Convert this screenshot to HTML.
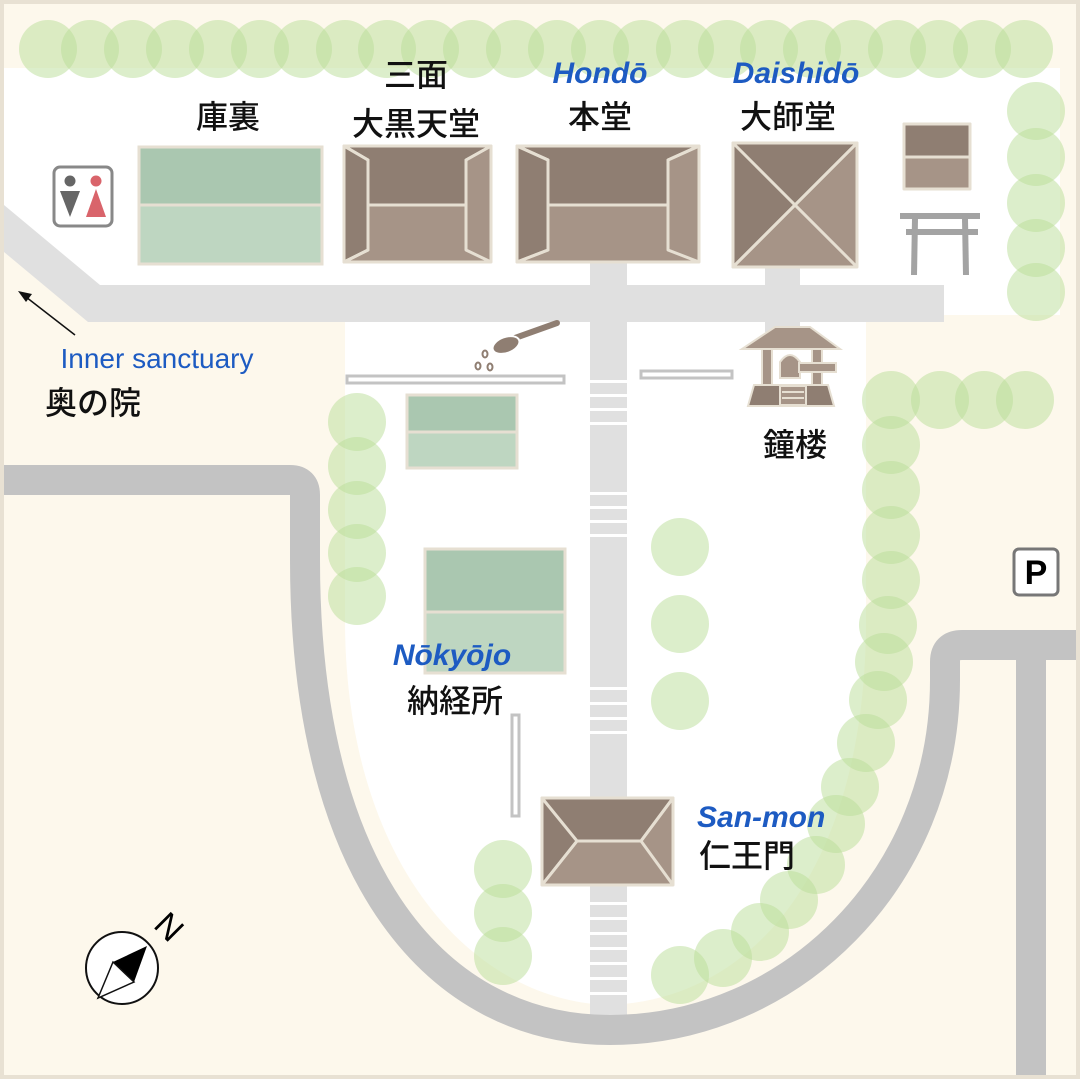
<!DOCTYPE html>
<html><head><meta charset="utf-8"><style>
html,body{margin:0;padding:0;background:#fdf8ec}
svg{display:block}
.jp{font-family:"Liberation Sans","Noto Sans CJK JP",sans-serif;font-weight:500;fill:#111}
.en{font-family:"Liberation Sans","DejaVu Sans",sans-serif;font-style:italic;font-weight:bold;fill:#1d5bc2}
</style></head><body>
<svg width="1080" height="1079" viewBox="0 0 1080 1079" xmlns="http://www.w3.org/2000/svg">
<rect x="0" y="0" width="1080" height="1079" fill="#fdf8ec"/>
<rect x="4" y="68" width="1056" height="247" fill="#fff"/>
<polygon points="4,250 90,322 4,322" fill="#fdf8ec"/>
<path d="M345 322 H866 V620 C866 860 760 1000 608 1005 C470 1000 345 860 345 620 Z" fill="#fff"/>
<polygon points="4,205 100,285 944,285 944,322 88,322 4,252" fill="#e0e0e0"/>
<rect x="590" y="262" width="37" height="775" fill="#e0e0e0"/>
<rect x="765" y="265" width="35" height="22" fill="#e0e0e0"/>
<rect x="765" y="320" width="35" height="12" fill="#e0e0e0"/>
<g fill="#fff">
<rect x="590" y="380" width="37" height="3"/><rect x="590" y="394" width="37" height="3"/><rect x="590" y="408" width="37" height="3"/><rect x="590" y="422" width="37" height="3"/>
<rect x="590" y="492" width="37" height="3"/><rect x="590" y="506" width="37" height="3"/><rect x="590" y="520" width="37" height="3"/><rect x="590" y="534" width="37" height="3"/>
<rect x="590" y="687" width="37" height="3"/><rect x="590" y="702" width="37" height="3"/><rect x="590" y="717" width="37" height="3"/><rect x="590" y="731" width="37" height="3"/>
<rect x="590" y="902" width="37" height="3"/><rect x="590" y="917" width="37" height="3"/><rect x="590" y="932" width="37" height="3"/><rect x="590" y="947" width="37" height="3"/><rect x="590" y="962" width="37" height="3"/><rect x="590" y="977" width="37" height="3"/><rect x="590" y="992" width="37" height="3"/>
</g>
<g fill="none" stroke="#c3c3c3" stroke-width="30">
<path d="M0 480 H290 Q305 480 305 495 V560 C305 880 440 1030 610 1030 C790 1030 945 880 945 680 V662 Q945 645 962 645 H1080"/>
<path d="M1031 645 V1079"/>
</g>
<g fill="#b9dd98" fill-opacity="0.5">
<circle cx="48" cy="49" r="29"/><circle cx="90" cy="49" r="29"/><circle cx="133" cy="49" r="29"/><circle cx="175" cy="49" r="29"/><circle cx="218" cy="49" r="29"/><circle cx="260" cy="49" r="29"/><circle cx="303" cy="49" r="29"/><circle cx="345" cy="49" r="29"/><circle cx="387" cy="49" r="29"/><circle cx="430" cy="49" r="29"/><circle cx="472" cy="49" r="29"/><circle cx="515" cy="49" r="29"/><circle cx="557" cy="49" r="29"/><circle cx="600" cy="49" r="29"/><circle cx="642" cy="49" r="29"/><circle cx="685" cy="49" r="29"/><circle cx="727" cy="49" r="29"/><circle cx="769" cy="49" r="29"/><circle cx="812" cy="49" r="29"/><circle cx="854" cy="49" r="29"/><circle cx="897" cy="49" r="29"/><circle cx="939" cy="49" r="29"/><circle cx="982" cy="49" r="29"/><circle cx="1024" cy="49" r="29"/>
<circle cx="1036" cy="111" r="29"/><circle cx="1036" cy="157" r="29"/><circle cx="1036" cy="203" r="29"/><circle cx="1036" cy="248" r="29"/><circle cx="1036" cy="292" r="29"/>
<circle cx="891" cy="400" r="29"/><circle cx="940" cy="400" r="29"/><circle cx="984" cy="400" r="29"/><circle cx="1025" cy="400" r="29"/>
<circle cx="891" cy="445" r="29"/><circle cx="891" cy="490" r="29"/><circle cx="891" cy="535" r="29"/><circle cx="891" cy="580" r="29"/><circle cx="888" cy="625" r="29"/><circle cx="884" cy="662" r="29"/><circle cx="878" cy="700" r="29"/><circle cx="866" cy="743" r="29"/><circle cx="850" cy="787" r="29"/><circle cx="836" cy="824" r="29"/><circle cx="816" cy="865" r="29"/><circle cx="789" cy="900" r="29"/><circle cx="760" cy="932" r="29"/><circle cx="723" cy="958" r="29"/><circle cx="680" cy="975" r="29"/>
<circle cx="357" cy="422" r="29"/><circle cx="357" cy="466" r="29"/><circle cx="357" cy="510" r="29"/><circle cx="357" cy="553" r="29"/><circle cx="357" cy="596" r="29"/>
<circle cx="680" cy="547" r="29"/><circle cx="680" cy="624" r="29"/><circle cx="680" cy="701" r="29"/>
<circle cx="503" cy="869" r="29"/><circle cx="503" cy="913" r="29"/><circle cx="503" cy="956" r="29"/>
</g>
<g fill="#fff" stroke="#c3c3c3" stroke-width="3">
<rect x="347" y="376" width="217" height="7"/><rect x="641" y="371" width="91" height="7"/><rect x="512" y="715" width="7" height="101"/>
</g>
<g stroke="#e6dfd2" stroke-width="3">
<rect x="139" y="147" width="183" height="58" fill="#aac7b0"/><rect x="139" y="205" width="183" height="59" fill="#bed6c1"/>
<rect x="407" y="395" width="110" height="37" fill="#aac7b0"/><rect x="407" y="432" width="110" height="36" fill="#bed6c1"/>
<rect x="425" y="549" width="140" height="63" fill="#aac7b0"/><rect x="425" y="612" width="140" height="61" fill="#bed6c1"/>
</g>
<g stroke="#e6dfd2" stroke-width="3" stroke-linejoin="round">
<rect x="344" y="146" width="147" height="116" fill="#a69487"/>
<polygon points="344,146 491,146 466,160 466,205 368,205 368,160" fill="#8f7e72"/>
<polygon points="344,146 368,160 368,250 344,262" fill="#8f7e72"/>
<polyline points="344,146 368,160 368,250 344,262" fill="none"/>
<polyline points="491,146 466,160 466,250 491,262" fill="none"/>
<line x1="368" y1="205" x2="466" y2="205"/>
<rect x="517" y="146" width="182" height="116" fill="#a69487"/>
<polygon points="517,146 699,146 668,160 668,205 548,205 548,160" fill="#8f7e72"/>
<polygon points="517,146 548,160 548,250 517,262" fill="#8f7e72"/>
<polyline points="517,146 548,160 548,250 517,262" fill="none"/>
<polyline points="699,146 668,160 668,250 699,262" fill="none"/>
<line x1="548" y1="205" x2="668" y2="205"/>
<rect x="733" y="143" width="124" height="124" fill="#a69487"/>
<polygon points="733,143 857,143 795,205 733,267" fill="#8f7e72"/>
<line x1="733" y1="143" x2="857" y2="267"/><line x1="857" y1="143" x2="733" y2="267"/>
<rect x="904" y="124" width="66" height="65" fill="#a69487"/>
<rect x="904" y="124" width="66" height="33" fill="#8f7e72"/>
<rect x="542" y="798" width="131" height="87" fill="#a69487"/>
<polygon points="542,798 673,798 641,841 577,841 542,885" fill="#8f7e72"/>
<polyline points="542,798 577,841 641,841 673,798" fill="none"/>
<line x1="577" y1="841" x2="542" y2="885"/>
<line x1="641" y1="841" x2="673" y2="885"/>
</g>
<g fill="#a3a3a3">
<rect x="900" y="213" width="80" height="6"/><rect x="906" y="229" width="72" height="6"/>
<polygon points="912,219 918,219 917,275 911,275"/><polygon points="962,219 968,219 969,275 963,275"/>
</g>
<g stroke="#e6dfd2" stroke-width="2">
<polygon points="775,327 810,327 840,349 742,349" fill="#a69487"/>
<rect x="762" y="349" width="10" height="37" fill="#a69487"/>
<rect x="812" y="349" width="10" height="37" fill="#a69487"/>
<path d="M780 378 V362 Q790 348 800 362 V378 Z" fill="#a69487"/>
<rect x="799" y="363" width="37" height="9" fill="#a69487"/>
<polygon points="754,385 828,385 834,406 748,406" fill="#8f7e72"/>
<rect x="780" y="386" width="26" height="19" fill="#a69487"/>
<line x1="782" y1="392" x2="804" y2="392"/><line x1="782" y1="398" x2="804" y2="398"/>
</g>
<line x1="515" y1="338" x2="557" y2="323" stroke="#8f7e72" stroke-width="6" stroke-linecap="round"/>
<ellipse cx="506" cy="345" rx="14" ry="8" transform="rotate(-20 506 345)" fill="#8f7e72" stroke="#fff" stroke-width="2"/>
<g fill="none" stroke="#8f7e72" stroke-width="2"><ellipse cx="485" cy="354" rx="2.5" ry="3.5"/><ellipse cx="478" cy="366" rx="2.5" ry="3.5"/><ellipse cx="490" cy="367" rx="2.5" ry="3.5"/></g>
<rect x="54" y="167" width="58" height="59" rx="6" fill="#fff" stroke="#888" stroke-width="3"/>
<circle cx="70" cy="181" r="5.5" fill="#666"/><polygon points="60,191 80,191 70,217" fill="#666"/>
<circle cx="96" cy="181" r="5.5" fill="#d9646b"/><polygon points="96,189 86,217 106,217" fill="#d9646b"/>
<rect x="1014" y="549" width="44" height="46" rx="5" fill="#fff" stroke="#777" stroke-width="3"/>
<text x="1036" y="584" text-anchor="middle" font-family="Liberation Sans, sans-serif" font-weight="bold" font-size="34" fill="#000">P</text>
<line x1="75" y1="335" x2="26" y2="297" stroke="#111" stroke-width="1.5"/>
<polygon points="18,291 32,294 26,302" fill="#111"/>
<circle cx="122" cy="968" r="36" fill="#fff" stroke="#111" stroke-width="2"/>
<polygon points="147,946 113,962 134,982" fill="#000"/>
<polygon points="98,998 113,962 134,982" fill="#fff" stroke="#111" stroke-width="1.5"/>
<text x="168" y="938" text-anchor="middle" transform="rotate(45 168 928)" font-family="Liberation Sans, sans-serif" font-size="34" fill="#000">N</text>
<text x="157" y="368" font-family="Liberation Sans, sans-serif" font-size="28" fill="#1d5bc2" text-anchor="middle">Inner sanctuary</text>
<text x="45" y="414" class="jp" font-size="32">奥の院</text>
<text x="228" y="128" class="jp" font-size="32" text-anchor="middle">庫裏</text>
<text x="416" y="86" class="jp" font-size="32" text-anchor="middle">三面</text>
<text x="416" y="135" class="jp" font-size="32" text-anchor="middle">大黒天堂</text>
<text x="600" y="83" class="en" font-size="30" text-anchor="middle">Hondō</text>
<text x="600" y="128" class="jp" font-size="32" text-anchor="middle">本堂</text>
<text x="796" y="83" class="en" font-size="30" text-anchor="middle">Daishidō</text>
<text x="788" y="128" class="jp" font-size="32" text-anchor="middle">大師堂</text>
<text x="795" y="456" class="jp" font-size="32" text-anchor="middle">鐘楼</text>
<text x="452" y="665" class="en" font-size="30" text-anchor="middle">Nōkyōjo</text>
<text x="455" y="712" class="jp" font-size="32" text-anchor="middle">納経所</text>
<text x="697" y="827" class="en" font-size="30">San-mon</text>
<text x="699" y="867" class="jp" font-size="32">仁王門</text>
<rect x="2" y="2" width="1076" height="1075" fill="none" stroke="#e8e1d3" stroke-width="4"/>
</svg>
</body></html>
